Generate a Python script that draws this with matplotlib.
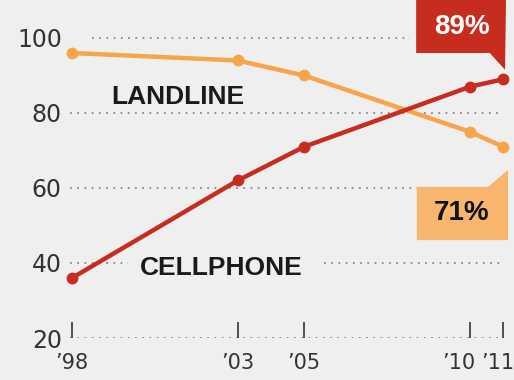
import matplotlib
matplotlib.use('Agg')
import matplotlib.pyplot as plt
import matplotlib.transforms as mtransforms
from matplotlib.patches import Polygon

# share of adults with each kind of phone, %
years = [1998, 2003, 2005, 2010, 2011]
landline = [96, 94, 90, 75, 71]
cellphone = [36, 62, 71, 87, 89]

tick_years = [1998, 2003, 2005, 2010, 2011]
tick_labels = ['\u201998', '\u201903', '\u201905', '\u201910', '\u201911']
y_ticks = [20, 40, 60, 80, 100]

bg = '#efefef'
red = '#c62d1f'
orange = '#f8a44a'
orange_box = '#f8b56d'
grid_col = '#8a8a8a'

fig = plt.figure(figsize=(5.14, 3.8), dpi=100, facecolor=bg)
ax = fig.add_axes([66/514, 42/380, 444/514, 338/380])
ax.set_facecolor(bg)
ax.set_xlim(1997.82, 2011.21)
ax.set_ylim(20, 110.13)
for s in ax.spines.values():
    s.set_visible(False)

# dotted gridlines (interrupted where labels sit)
dot = dict(color=grid_col, lw=1.3, linestyle=(0, (1, 3)), zorder=1)
x0, x1 = 1997.94, 2011.0
ax.plot([1998.6, 2008.2], [100, 100], **dot)
ax.plot([x0, x1], [80, 80], **dot)
ax.plot([x0, 2008.4], [60, 60], **dot)
ax.plot([x0, 1999.7], [40, 40], **dot)
ax.plot([2005.6, x1], [40, 40], **dot)
ax.plot([x0, x1], [20, 20], **dot)

# small tick marks on the baseline
ax.vlines(tick_years, 20, 24.2, color='#444444', lw=1.3, zorder=2)

ax.plot(years, landline, color=orange, lw=3.2, marker='o', ms=7.5,
        zorder=3, clip_on=False)
ax.plot(years, cellphone, color=red, lw=3.2, marker='o', ms=7.5,
        zorder=4, clip_on=False)

lab_font = ['Liberation Sans', 'DejaVu Sans']
ax.text(2001.2, 84.3, 'LANDLINE', ha='center', va='center', fontsize=19,
        fontweight='bold', family=lab_font, color='#1a1a1a')
ax.text(2002.5, 38.6, 'CELLPHONE', ha='center', va='center', fontsize=19,
        fontweight='bold', family=lab_font, color='#1a1a1a')

# callout boxes for the latest values
xr = years[-1]
red_pts = [(2008.38, 110.13), (xr + 0.09, 110.13), (xr + 0.06, cellphone[-1] + 2.5),
           (xr - 0.4, 96), (2008.38, 96)]
ax.add_patch(Polygon(red_pts, closed=True, fc=red, ec='none', zorder=5, clip_on=False))
ax.text(2009.75, 102.9, '%d%%' % cellphone[-1], ha='center', va='center',
        fontsize=20, fontweight='bold', family=lab_font, color='white', zorder=6)

org_pts = [(2008.4, 60.3), (xr - 0.45, 60.3), (xr + 0.15, 64.8),
           (xr + 0.15, 46.1), (2008.4, 46.1)]
ax.add_patch(Polygon(org_pts, closed=True, fc=orange_box, ec='none', zorder=5, clip_on=False))
ax.text(2009.75, 53.4, '%d%%' % landline[-1], ha='center', va='center',
        fontsize=20, fontweight='bold', family=lab_font, color='#111111', zorder=6)

ax.set_yticks(y_ticks)
ax.set_yticklabels([str(v) for v in y_ticks])
ax.set_xticks(tick_years)
ax.set_xticklabels(tick_labels)
ax.tick_params(axis='y', length=0, pad=3, labelsize=17, labelcolor='#333333')
ax.tick_params(axis='x', length=0, pad=11, labelsize=15, labelcolor='#333333')

# nudge the last two year labels so they don't collide at the right edge
xl = ax.get_xticklabels()
xl[-1].set_transform(xl[-1].get_transform() +
                     mtransforms.ScaledTranslation(-5/100, 0, fig.dpi_scale_trans))
xl[-2].set_transform(xl[-2].get_transform() +
                     mtransforms.ScaledTranslation(-11/100, 0, fig.dpi_scale_trans))

fig.savefig('out.png', dpi=100, facecolor=bg)
